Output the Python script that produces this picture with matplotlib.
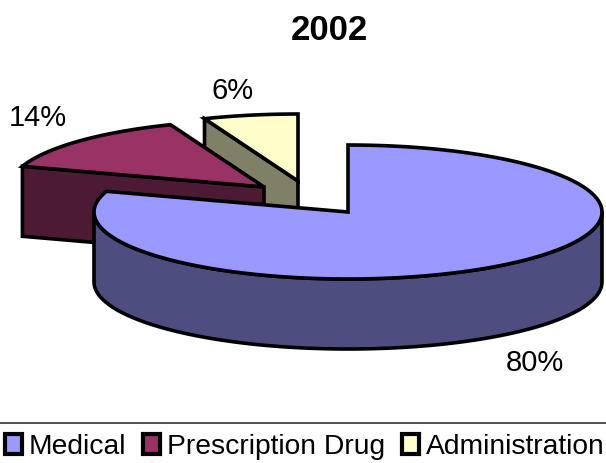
import numpy as np
import matplotlib.pyplot as plt
from matplotlib.patches import Patch, Polygon

plt.rcParams['font.family'] = ['Liberation Sans', 'DejaVu Sans']

title = "2002"
categories = ["Medical", "Prescription Drug", "Administration"]
values = [80, 14, 6]
colors = ["#9999FF", "#993366", "#FFFFCC"]
side_colors = ["#4D4D80", "#4D1A33", "#808066"]

# layout, in pixels of the picture
centers = [(348, 212), (264, 187), (298, 181)]
label_pos = [(535, 363), (38, 118), (233, 91)]
rx, ry, depth = 254, 67, 70
lw = 2.6


def arc(cx, cy, a0, a1, dy=0):
    # angles clockwise from 12 o'clock, in degrees
    a = np.radians(np.linspace(a0, a1, 200))
    return np.column_stack([cx + rx * np.sin(a), cy + dy - ry * np.cos(a)])


def draw_slice(ax, center, a0, a1, top_color, side_color, z):
    cx, cy = center
    if a0 < 180:
        # big slice: outer rim shows along the front
        rim_a = max(a0, 90)
        rim_b = min(a1, 270)
        rim = np.vstack([arc(cx, cy, rim_a, rim_b), arc(cx, cy, rim_b, rim_a, depth)])
        ax.add_patch(Polygon(rim, fc=side_color, ec="black", lw=lw, joinstyle="round", zorder=z))
    else:
        # small slices: the cut face on the start side shows
        outer = arc(cx, cy, a0, a0 + 0.01)[0]
        cut = [(cx, cy), outer, (outer[0], outer[1] + depth), (cx, cy + depth)]
        ax.add_patch(Polygon(cut, fc=side_color, ec="black", lw=lw, joinstyle="miter", zorder=z))
    top = np.vstack([[(cx, cy)], arc(cx, cy, a0, a1)])
    ax.add_patch(Polygon(top, fc=top_color, ec="black", lw=lw, joinstyle="miter", zorder=z + 0.5))


fig = plt.figure(figsize=(6.06, 4.63), dpi=100)
ax = fig.add_axes([0, 0, 1, 1])
ax.set_xlim(0, 606)
ax.set_ylim(463, 0)
ax.axis("off")

# slices start at 12 o'clock and go clockwise, back ones are drawn first
edges = np.cumsum([0] + values) / sum(values) * 360
for i in [2, 1, 0]:
    draw_slice(ax, centers[i], edges[i], edges[i + 1], colors[i], side_colors[i], 3 - i)

for v, (x, y) in zip(values, label_pos):
    ax.text(x, y, f"{v}%", fontsize=21, ha="center", va="center", color="black", zorder=10)

ax.text(329.5, 31, title, fontsize=25, fontweight="bold", ha="center", va="center")

ax.plot([0, 606], [423, 423], color="#333333", lw=1.2)

handles = [Patch(fc=c, ec="black", lw=3) for c in colors]
ax.legend(handles, categories, ncol=3, frameon=False, fontsize=20.3,
          loc="center", bbox_to_anchor=(305, 447), bbox_transform=ax.transData,
          handlelength=0.6, handleheight=0.7, handletextpad=0.25,
          columnspacing=0.6, borderpad=0, borderaxespad=0)

fig.savefig("out.png", dpi=100)
